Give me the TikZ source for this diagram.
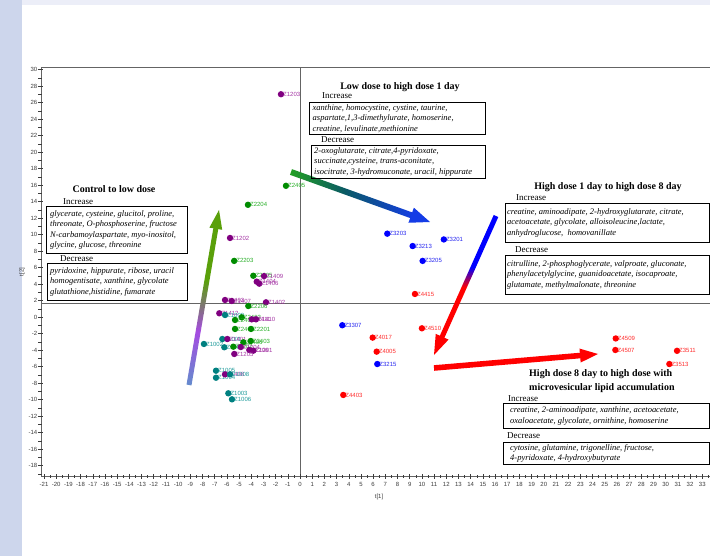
\documentclass[tikz,border=0pt]{standalone}
\usepackage{fontspec}
\setmainfont{Liberation Serif}
\newfontfamily\arialf{Liberation Sans}
\usetikzlibrary{calc}
\definecolor{bgleft}{RGB}{205,214,236}
\definecolor{bgtop}{RGB}{236,238,248}
\definecolor{axisc}{RGB}{100,100,100}
\definecolor{tickc}{RGB}{60,60,60}
\definecolor{pdot}{RGB}{128,0,128}
\definecolor{plbl}{RGB}{165,55,165}
\definecolor{gdot}{RGB}{0,140,0}
\definecolor{glbl}{RGB}{40,175,40}
\definecolor{tdot}{RGB}{0,128,128}
\definecolor{tlbl}{RGB}{30,155,155}
\definecolor{bdot}{RGB}{0,0,255}
\definecolor{blbl}{RGB}{40,40,240}
\definecolor{rdot}{RGB}{255,0,0}
\definecolor{rlbl}{RGB}{255,45,45}
\definecolor{aonea}{RGB}{100,140,205}
\definecolor{aoneb}{RGB}{165,75,225}
\definecolor{aonec}{RGB}{90,160,10}
\definecolor{atwoa}{RGB}{35,160,35}
\definecolor{atwob}{RGB}{10,90,100}
\definecolor{atwoc}{RGB}{20,60,230}
\pgfdeclareverticalshading{shA}{100bp}{color(0bp)=(aonea); color(25bp)=(aonea); color(42bp)=(aoneb); color(58bp)=(aonec); color(100bp)=(aonec)}
\pgfdeclarehorizontalshading{shB}{100bp}{color(0bp)=(atwoa); color(25bp)=(atwoa); color(47bp)=(atwob); color(75bp)=(atwoc); color(100bp)=(atwoc)}
\pgfdeclareverticalshading{shC}{100bp}{color(0bp)=(red); color(25bp)=(red); color(46bp)=(red); color(54bp)=(blue); color(75bp)=(blue); color(100bp)=(blue)}
\tikzset{
  axisline/.style={draw=axisc, line width=0.7pt},
  tickmark/.style={draw=tickc, line width=0.45pt},
  ticklbl/.style={font=\arialf\fontsize{6}{7}\selectfont, text=tickc, inner sep=0pt},
  dot/.style={circle, inner sep=0pt, minimum size=6.4pt},
  lbl/.style={font=\arialf\fontsize{6}{7}\selectfont, inner sep=0pt, anchor=west},
  ttl/.style={font=\bfseries\fontsize{10}{13.4}\selectfont, inner sep=0pt},
  sublbl/.style={font=\fontsize{9}{10}\selectfont, inner sep=0pt, anchor=west},
  boxframe/.style={draw=black, line width=0.9pt, anchor=north west, inner sep=0pt},
  boxtext/.style={font=\itshape\fontsize{8.5}{10.5}\selectfont, inner sep=0pt, anchor=west, align=left},
}
\newcommand\dpt[4]{%
  \node[dot,fill=#1dot] (#2) at (#3,#4) {};
  \node[lbl,text=#1lbl] (#2-l) at ([xshift=2pt]#3,#4) {#2};
}
\newcommand\fatarrow[8]{%
  \coordinate (#1hb) at ($(#3)!#5!(#2)$);
  \coordinate (#1hs) at ($(#3)!#5-2pt!(#2)$);
  \path[#7] ($(#2)!#4!90:(#3)$) -- ($(#1hs)!#4!90:(#3)$) -- ($(#1hs)!#4!-90:(#3)$) -- ($(#2)!#4!-90:(#3)$) -- cycle;
  \fill[#8] ($(#1hb)!#6!90:(#3)$) -- (#3) -- ($(#1hb)!#6!-90:(#3)$) -- cycle;
}
\begin{document}
\begin{tikzpicture}[x=1pt, y=-1pt]
\useasboundingbox (0,0) rectangle (710,556);
\fill[bgtop] (0,0) rectangle (710,556);
\fill[bgleft] (0,0) rectangle (22,556);
\fill[white] (22,5) rectangle (710,556);

% ---------------- data frame ----------------
\begin{scope}[shift={(300,317)}, x=12.19pt, y=8.25pt]
  \draw[axisline] (-21.25,30.3) -- (33.63,30.3);
  \draw[axisline] (-21.25,30.3) -- (-21.25,-19.3) -- (33.63,-19.3);
  \draw[axisline] (0,30.3) -- (0,-19.3);
  \draw[axisline] (-21.25,1.65) -- (33.63,1.65);
  \foreach \v in {-19,...,30} {
    \draw[tickmark] ([xshift=-2.5pt]-21.25,\v) -- ([xshift=1.5pt]-21.25,\v);
  }
  \foreach \v in {-18,-16,...,30} {
    \draw[tickmark] ([xshift=-3pt]-21.25,\v) -- ([xshift=2.5pt]-21.25,\v);
    \node[ticklbl, anchor=east] (yl\v) at ([xshift=-3.5pt]-21.25,\v) {\v};
  }
  \foreach \v in {-21,...,33} {
    \draw[tickmark] ([yshift=-2.5pt]\v,-19.3) -- ([yshift=2.5pt]\v,-19.3);
    \draw[tickmark] ([yshift=-1.5pt]\v+0.5,-19.3) -- ([yshift=1.5pt]\v+0.5,-19.3);
    \node[ticklbl, anchor=north] (xl\v) at ([yshift=-6pt]\v,-19.3) {\v};
  }

  % purple / green / teal cluster
  \dpt{p}{Z1203}{-1.56}{27.0}
  \dpt{p}{Z1202}{-5.74}{9.58}
  \dpt{g}{Z2204}{-4.27}{13.6}
  \dpt{g}{Z2405}{-1.15}{15.9}
  \dpt{g}{Z2203}{-5.4}{6.8}
  \dpt{g}{Z2205}{-3.83}{5.0}
  \dpt{p}{Z1409}{-2.95}{4.96}
  \dpt{p}{Z1404}{-3.55}{4.28}
  \dpt{p}{Z1406}{-3.34}{4.04}
  \dpt{p}{Z1403}{-6.15}{2.06}
  \dpt{p}{Z1407}{-5.6}{1.94}
  \dpt{p}{Z1402}{-2.79}{1.78}
  \dpt{g}{Z2206}{-4.24}{1.33}
  \dpt{p}{Z1412}{-6.62}{0.45}
  \dpt{t}{Z1009}{-6.15}{0.24}
  \dpt{g}{Z2402}{-4.78}{-0.04}
  \dpt{g}{Z2404}{-5.33}{-0.36}
  \dpt{p}{Z1411}{-3.96}{-0.28}
  \dpt{p}{Z1410}{-3.61}{-0.28}
  \dpt{g}{Z2401}{-5.33}{-1.45}
  \dpt{g}{Z2201}{-4.02}{-1.45}
  \dpt{t}{Z1001}{-6.37}{-2.67}
  \dpt{p}{Z1401}{-5.96}{-2.67}
  \dpt{t}{Z1002}{-7.88}{-3.27}
  \dpt{t}{Z1007}{-6.21}{-3.67}
  \dpt{g}{Z2202}{-5.47}{-3.6}
  \dpt{g}{Z2406}{-4.65}{-3.07}
  \dpt{g}{Z2403}{-4.04}{-2.91}
  \dpt{p}{Z1204}{-4.86}{-3.64}
  \dpt{p}{Z1206}{-4.16}{-4.0}
  \dpt{p}{Z1201}{-3.83}{-4.08}
  \dpt{p}{Z1205}{-5.39}{-4.48}
  \dpt{t}{Z1005}{-6.89}{-6.51}
  \dpt{t}{Z1004}{-6.89}{-7.36}
  \dpt{p}{Z1408}{-6.15}{-6.95}
  \dpt{t}{Z1008}{-5.74}{-6.95}
  \dpt{t}{Z1003}{-5.88}{-9.25}
  \dpt{t}{Z1006}{-5.58}{-9.98}
  % blue
  \dpt{b}{Z3203}{7.16}{10.1}
  \dpt{b}{Z3201}{11.8}{9.4}
  \dpt{b}{Z3213}{9.24}{8.6}
  \dpt{b}{Z3205}{10.06}{6.8}
  \dpt{b}{Z3307}{3.47}{-1.0}
  \dpt{b}{Z3215}{6.34}{-5.7}
  % red
  \dpt{r}{Z4415}{9.43}{2.79}
  \dpt{r}{Z4510}{10.0}{-1.37}
  \dpt{r}{Z4017}{5.96}{-2.5}
  \dpt{r}{Z4005}{6.29}{-4.2}
  \dpt{r}{Z4403}{3.55}{-9.45}
  \dpt{r}{Z4509}{25.9}{-2.6}
  \dpt{r}{Z4507}{25.87}{-4.0}
  \dpt{r}{Z3511}{30.93}{-4.1}
  \dpt{r}{Z3513}{30.3}{-5.7}
\end{scope}

\node[ticklbl] (xt) at (379,497) {t[1]};
\node[ticklbl, rotate=90] (yt) at (22,272) {t[2]};

% ---------------- arrows ----------------
\coordinate (a1s) at (189,385); \coordinate (a1e) at (219,210);
\coordinate (a2s) at (291,172); \coordinate (a2e) at (430,222);
\coordinate (a3s) at (496,216); \coordinate (a3e) at (434,355);
\coordinate (a4s) at (434,368); \coordinate (a4e) at (598,354);
\fatarrow{aa}{a1s}{a1e}{2.5pt}{19pt}{6.5pt}{shade, shading=shA}{aonec}
\fatarrow{ab}{a2s}{a2e}{3pt}{20pt}{8pt}{shade, shading=shB}{atwoc}
\fatarrow{ac}{a3s}{a3e}{2.5pt}{20pt}{7pt}{shade, shading=shC}{red}
\fatarrow{ad}{a4s}{a4e}{2.8pt}{18pt}{7pt}{fill=red}{red}

% ---------------- block 1 ----------------
\node[ttl] (b1t) at (114,189) {Control to low dose};
\node[sublbl] (b1i) at (63,202) {Increase};
\node[boxframe, minimum width=141pt, minimum height=47pt] (b1ib) at (46,206) {};
\node[boxtext] (b1it) at ([xshift=4pt]b1ib.west) {glycerate, cysteine, glucitol, proline,\\threonate, O-phosphoserine, fructose\\N-carbamoylaspartate, myo-inositol,\\glycine, glucose, threonine};
\node[sublbl] (b1d) at (60,259) {Decrease};
\node[boxframe, minimum width=140pt, minimum height=37pt] (b1db) at (47,263) {};
\node[boxtext] (b1dt) at ([xshift=3pt]b1db.west) {pyridoxine, hippurate, ribose, uracil\\homogentisate, xanthine, glycolate\\glutathione,histidine, fumarate};

% ---------------- block 2 ----------------
\node[ttl] (b2t) at (400,87) {Low dose to high dose 1 day};
\node[sublbl] (b2i) at (322,96) {Increase};
\node[boxframe, minimum width=176pt, minimum height=32pt] (b2ib) at (309,102) {};
\node[boxtext] (b2it) at ([xshift=3.5pt]b2ib.west) {xanthine, homocystine, cystine, taurine,\\aspartate,1,3-dimethylurate, homoserine,\\creatine, levulinate,methionine};
\node[sublbl] (b2d) at (321,140) {Decrease};
\node[boxframe, minimum width=174pt, minimum height=33pt] (b2db) at (311,145) {};
\node[boxtext] (b2dt) at ([xshift=3pt]b2db.west) {2-oxoglutarate, citrate,4-pyridoxate,\\succinate,cysteine, trans-aconitate,\\isocitrate, 3-hydromuconate, uracil, hippurate};

% ---------------- block 3 ----------------
\node[ttl] (b3t) at (608,187) {High dose 1 day to high dose 8 day};
\node[sublbl] (b3i) at (516,198) {Increase};
\node[boxframe, minimum width=204pt, minimum height=39pt] (b3ib) at (505,203) {};
\node[boxtext] (b3it) at ([xshift=2pt]b3ib.west) {creatine, aminoadipate, 2-hydroxyglutarate, citrate,\\acetoacetate, glycolate, alloisoleucine,lactate,\\anhydroglucose,\ \ homovanillate};
\node[sublbl] (b3d) at (515,250) {Decrease};
\node[boxframe, minimum width=204pt, minimum height=39pt] (b3db) at (505,255) {};
\node[boxtext] (b3dt) at ([xshift=2pt]b3db.west) {citrulline, 2-phosphoglycerate, valproate, gluconate,\\phenylacetylglycine, guanidoacetate, isocaproate,\\glutamate, methylmalonate, threonine};

% ---------------- block 4 ----------------
\node[ttl, anchor=west, align=left] (b4t) at (529,381) {High dose 8 day to high dose with\\microvesicular lipid accumulation};
\node[sublbl] (b4i) at (508,399) {Increase};
\node[boxframe, minimum width=206pt, minimum height=25pt] (b4ib) at (503,403) {};
\node[boxtext] (b4it) at ([xshift=7pt]b4ib.west) {creatine, 2-aminoadipate, xanthine, acetoacetate,\\oxaloacetate, glycolate, ornithine, homoserine};
\node[sublbl] (b4d) at (507,436) {Decrease};
\node[boxframe, minimum width=206pt, minimum height=22pt] (b4db) at (503,442) {};
\node[boxtext] (b4dt) at ([xshift=7pt]b4db.west) {cytosine, glutamine, trigonelline, fructose,\\4-pyridoxate, 4-hydroxybutyrate};
\end{tikzpicture}
\end{document}
